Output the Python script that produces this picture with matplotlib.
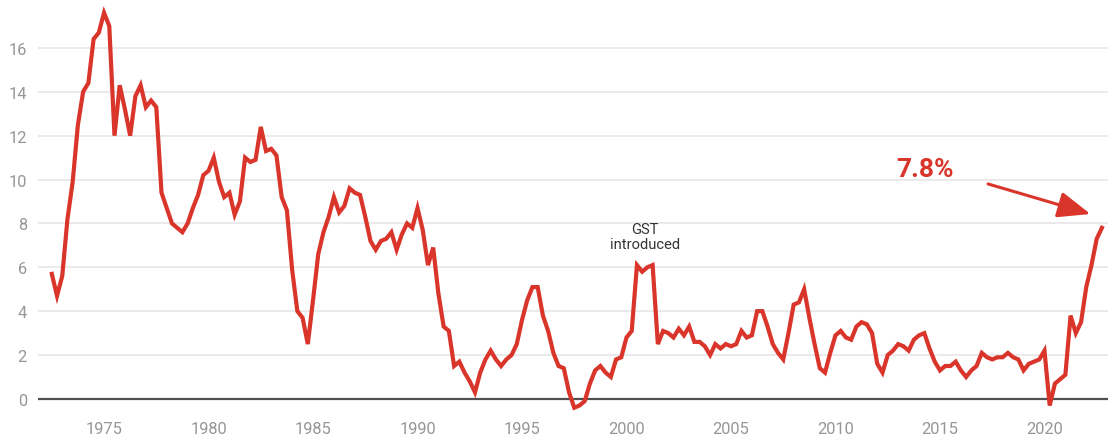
import numpy as np
import matplotlib.pyplot as plt

plt.rcParams['font.family'] = ['Roboto', 'DejaVu Sans']

# Year-ended CPI inflation (%), quarterly, Sep 1972 quarter to Dec 2022 quarter
start_year = 1972.5
inflation = [
    5.7, 4.7,                   # 1972
    5.6, 8.2, 9.9, 12.5,        # 1973
    14.0, 14.4, 16.4, 16.7,     # 1974
    17.6, 17.0, 12.0, 14.3,     # 1975
    13.2, 12.0, 13.8, 14.3,     # 1976
    13.3, 13.6, 13.3, 9.4,      # 1977
    8.7, 8.0, 7.8, 7.6,         # 1978
    8.0, 8.7, 9.3, 10.2,        # 1979
    10.4, 11.0, 9.9, 9.2,       # 1980
    9.4, 8.4, 9.0, 11.0,        # 1981
    10.8, 10.9, 12.4, 11.3,     # 1982
    11.4, 11.1, 9.2, 8.6,       # 1983
    5.9, 4.0, 3.7, 2.5,         # 1984
    4.5, 6.6, 7.6, 8.3,         # 1985
    9.2, 8.5, 8.8, 9.6,         # 1986
    9.4, 9.3, 8.3, 7.2,         # 1987
    6.8, 7.2, 7.3, 7.6,         # 1988
    6.8, 7.5, 8.0, 7.8,         # 1989
    8.7, 7.7, 6.1, 6.9,         # 1990
    4.8, 3.3, 3.1, 1.5,         # 1991
    1.7, 1.2, 0.8, 0.3,         # 1992
    1.2, 1.8, 2.2, 1.8,         # 1993
    1.5, 1.8, 2.0, 2.5,         # 1994
    3.6, 4.5, 5.1, 5.1,         # 1995
    3.8, 3.1, 2.1, 1.5,         # 1996
    1.4, 0.3, -0.4, -0.3,       # 1997
    -0.1, 0.7, 1.3, 1.5,        # 1998
    1.2, 1.0, 1.8, 1.9,         # 1999
    2.8, 3.1, 6.1, 5.8,         # 2000
    6.0, 6.1, 2.5, 3.1,         # 2001
    3.0, 2.8, 3.2, 2.9,         # 2002
    3.3, 2.6, 2.6, 2.4,         # 2003
    2.0, 2.5, 2.3, 2.5,         # 2004
    2.4, 2.5, 3.1, 2.8,         # 2005
    2.9, 4.0, 4.0, 3.3,         # 2006
    2.5, 2.1, 1.8, 3.0,         # 2007
    4.3, 4.4, 5.0, 3.7,         # 2008
    2.5, 1.4, 1.2, 2.1,         # 2009
    2.9, 3.1, 2.8, 2.7,         # 2010
    3.3, 3.5, 3.4, 3.0,         # 2011
    1.6, 1.2, 2.0, 2.2,         # 2012
    2.5, 2.4, 2.2, 2.7,         # 2013
    2.9, 3.0, 2.3, 1.7,         # 2014
    1.3, 1.5, 1.5, 1.7,         # 2015
    1.3, 1.0, 1.3, 1.5,         # 2016
    2.1, 1.9, 1.8, 1.9,         # 2017
    1.9, 2.1, 1.9, 1.8,         # 2018
    1.3, 1.6, 1.7, 1.8,         # 2019
    2.2, -0.3, 0.7, 0.9,        # 2020
    1.1, 3.8, 3.0, 3.5,         # 2021
    5.1, 6.1, 7.3, 7.8,         # 2022
]
quarters = start_year + 0.25 * np.arange(len(inflation))

year_ticks = [1975, 1980, 1985, 1990, 1995, 2000, 2005, 2010, 2015, 2020]
value_ticks = [0, 2, 4, 6, 8, 10, 12, 14, 16]

latest_label = '7.8%'
gst_label = 'GST\nintroduced'
gst_year = 2000.9

red = '#d9352b'

fig = plt.figure(figsize=(11.08, 4.35), dpi=100)
ax = fig.add_axes([38 / 1108, 23 / 435, 1 - 38 / 1108, 1 - 23 / 435])

ax.plot(quarters, inflation, color=red, lw=3.0, solid_joinstyle='miter',
        zorder=3)

ax.set_xlim(1971.84, 2023.04)
ax.set_ylim(-0.55, 18.23)

ax.set_yticks(value_ticks)
ax.set_xticks(year_ticks)
ax.grid(axis='y', color='#e6e6e6', lw=1.2)
ax.axhline(0, color='#505050', lw=1.6, zorder=2)
for s in ax.spines.values():
    s.set_visible(False)
ax.tick_params(axis='both', length=0, labelsize=11.8, colors='#969696')
ax.tick_params(axis='y', pad=8)
ax.tick_params(axis='x', pad=7)

# GST note above the 2000-01 spike
ax.text(gst_year, 7.4, gst_label, ha='center', va='center', fontsize=10.6,
        color='#333333', linespacing=1.15)

# latest reading with an arrow pointing at the last quarter
ax.text(2014.28, 10.5, latest_label, ha='center', va='center', fontsize=19,
        fontweight='bold', color=red)
ax.annotate('', xy=(2022.2, 8.43), xytext=(2017.3, 9.8),
            arrowprops=dict(arrowstyle='-|>,head_length=2.0,head_width=0.8',
                            color=red, lw=2.2, shrinkA=0, shrinkB=0))

fig.savefig('out.png', dpi=100)
